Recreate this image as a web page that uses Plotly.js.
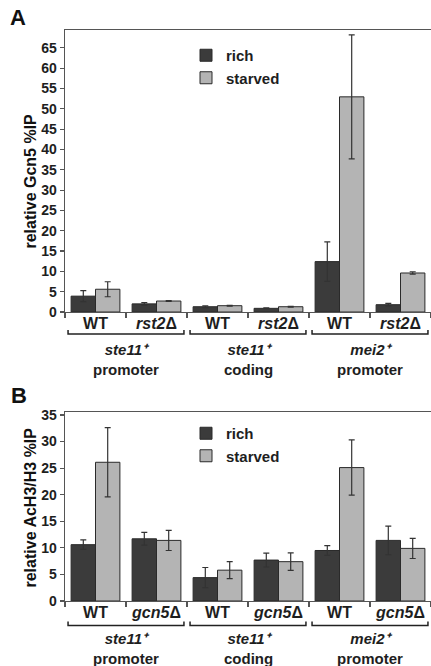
<!DOCTYPE html>
<html>
<head>
<meta charset="utf-8">
<script src="https://cdn.plot.ly/plotly-3.0.1.min.js"></script>
<style>html,body{margin:0;padding:0;background:#fff;}#chart{width:431px;height:666px;}</style>
</head>
<body>
<div id="chart"></div>
<script>
// ---- data ----
const catIds = ["s11p_WT", "s11p_mut", "s11c_WT", "s11c_mut", "mei2p_WT", "mei2p_mut"];
const tickTextA = ["WT", "<i>rst2</i>Δ", "WT", "<i>rst2</i>Δ", "WT", "<i>rst2</i>Δ"];
const tickTextB = ["WT", "<i>gcn5</i>Δ", "WT", "<i>gcn5</i>Δ", "WT", "<i>gcn5</i>Δ"];
const groupGene = ["<i>ste11⁺</i>", "<i>ste11⁺</i>", "<i>mei2⁺</i>"];
const groupRegion = ["promoter", "coding", "promoter"];
const seriesNames = ["rich", "starved"];

const richA = [3.9, 2.0, 1.3, 0.9, 12.4, 1.8];
const richErrA = [1.35, 0.3, 0.2, 0.1, 4.85, 0.3];
const starvedA = [5.6, 2.7, 1.55, 1.3, 52.95, 9.6];
const starvedErrA = [1.85, 0.12, 0.1, 0.1, 15.25, 0.3];

const richB = [10.6, 11.7, 4.4, 7.7, 9.5, 11.4];
const richErrB = [0.9, 1.2, 1.9, 1.3, 0.9, 2.7];
const starvedB = [26.1, 11.4, 5.8, 7.4, 25.1, 9.9];
const starvedErrB = [6.5, 1.9, 1.6, 1.65, 5.2, 1.9];

const yTitleA = "relative Gcn5 %IP";
const yTitleB = "relative AcH3/H3 %IP";

// ---- style / geometry helpers ----
const W = 431, H = 666, ML = 65;
const px = x => (x - ML) / (W - ML);
const py = y => 1 - y / H;
const FONT = "Liberation Sans, Arial, sans-serif";
const RICH = "#3b3b3b", STARVED = "#b4b4b4", EDGE = "#2a2a2a", AX = "#555555";
const bold = s => "<b>" + s + "</b>";

function bar(name, x, y, err, color, xa, ya, legend) {
  return {
    type: "bar", name: name, x: x, y: y, xaxis: xa, yaxis: ya, legend: legend,
    marker: {color: color, line: {color: EDGE, width: 1}},
    error_y: {type: "data", array: err, visible: true, color: "#333", thickness: 1.2, width: 3}
  };
}

const data = [
  bar(seriesNames[0], catIds, richA, richErrA, RICH, "x", "y", "legend"),
  bar(seriesNames[1], catIds, starvedA, starvedErrA, STARVED, "x", "y", "legend"),
  bar(seriesNames[0], catIds, richB, richErrB, RICH, "x2", "y2", "legend2"),
  bar(seriesNames[1], catIds, starvedB, starvedErrB, STARVED, "x2", "y2", "legend2")
];

function xaxis(anchor, ticktext) {
  return {
    anchor: anchor, domain: [0, 1], type: "category",
    categoryorder: "array", categoryarray: catIds,
    tickvals: catIds, ticktext: ticktext.map(bold), range: [-0.5, 5.5],
    tickson: "boundaries", ticks: "outside", ticklen: 5, tickwidth: 1.2, tickcolor: AX,
    ticklabelstandoff: -4,
    showline: true, mirror: true, linecolor: AX, linewidth: 1.3,
    showgrid: false, zeroline: false,
    tickfont: {family: FONT, size: 16, weight: 700, color: "#1e1e1e"}
  };
}
function yaxis(anchor, domain, top) {
  return {
    anchor: anchor, domain: domain, range: [0, top], dtick: 5, tick0: 0,
    ticks: "outside", ticklen: 4, tickwidth: 1.2, tickcolor: AX,
    showline: true, linecolor: AX, linewidth: 1.3,
    showgrid: false, zeroline: false,
    tickfont: {family: FONT, size: 14, weight: 700, color: "#1e1e1e"}
  };
}

const shapes = [];
const annotations = [];
function brackets(xref, lineY, labelY) {
  for (let g = 0; g < 3; g++) {
    const x0 = 2 * g - 0.45, x1 = 2 * g + 1.45;
    shapes.push({
      type: "path", xref: xref, yref: "paper",
      path: `M ${x0},${py(lineY - 4)} L ${x0},${py(lineY)} L ${x1},${py(lineY)} L ${x1},${py(lineY - 4)}`,
      line: {color: "#222", width: 1.5}
    });
    annotations.push({xref: xref, yref: "paper", x: 2 * g + 0.5, y: py(labelY),
      text: bold(groupGene[g]) + "<br>" + bold(groupRegion[g]),
      showarrow: false, xanchor: "center", yanchor: "middle", align: "center", borderpad: 0,
      font: {family: FONT, size: 15, weight: 700, color: "#1e1e1e"}});
  }
}
brackets("x", 334, 359);
brackets("x2", 625.5, 648);

function label(text, x, y, size, angle) {
  annotations.push({xref: "paper", yref: "paper", x: px(x), y: py(y), text: bold(text), showarrow: false,
    xanchor: "center", yanchor: "middle", textangle: angle || 0,
    font: {family: FONT, size: size, weight: 700, color: "#111"}});
}
label("A", 17.5, 17.5, 22);
label("B", 18.5, 395, 22);
label(yTitleA, 30, 181.5, 16, -90);
label(yTitleB, 30, 507.5, 16, -90);

const legendStyle = {
  xref: "paper", yref: "paper", xanchor: "left", yanchor: "top",
  bgcolor: "rgba(0,0,0,0)", borderwidth: 0, tracegroupgap: 0,
  font: {family: FONT, size: 15, weight: 700, color: "#1e1e1e"}
};

const layout = {
  width: W, height: H,
  margin: {l: ML, r: 0, t: 0, b: 0, pad: 0},
  paper_bgcolor: "#ffffff", plot_bgcolor: "#ffffff",
  barmode: "group", bargap: 0.2, bargroupgap: 0,
  showlegend: true,
  xaxis: xaxis("y", tickTextA),
  yaxis: yaxis("x", [py(312), py(30)], 69.4),
  xaxis2: xaxis("y2", tickTextB),
  yaxis2: yaxis("x2", [py(601), py(412.3)], 35.5),
  legend: Object.assign({x: px(186), y: py(39)}, legendStyle),
  legend2: Object.assign({x: px(186), y: py(417)}, legendStyle),
  shapes: shapes,
  annotations: annotations
};

Plotly.newPlot("chart", data, layout, {displayModeBar: false, staticPlot: true});
</script>
</body>
</html>
